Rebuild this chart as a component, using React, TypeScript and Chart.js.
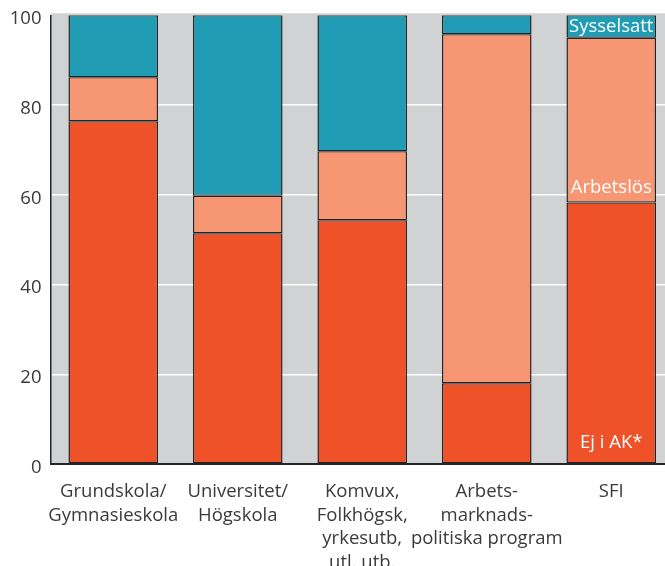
import React, { useEffect, useRef } from "react";
import { Chart, registerables } from "chart.js";
Chart.register(...registerables);

const categories: string[][] = [
  ["Grundskola/", "Gymnasieskola"],
  ["Universitet/", "Högskola"],
  ["Komvux,", "Folkhögsk,", "yrkesutb,", "utl. utb."],
  ["Arbets-", "marknads-", "politiska program"],
  ["SFI"],
];
const ejIAK = [76.4, 51.4, 54.3, 18.0, 58.3];
const arbetslos = [9.8, 8.4, 15.4, 77.8, 36.7];
const sysselsatt = [13.8, 40.2, 30.3, 4.2, 5.0];
const seriesNames = ["Ej i AK*", "Arbetslös", "Sysselsatt"];
const yMin = 0;
const yMax = 100;
const yStep = 20;

const FONT = "'Open Sans', 'DejaVu Sans', sans-serif";
const TEXT = "#3a3a3a";
const DARK = "#252525";

const bgPlugin = {
  id: "plotBg",
  beforeDraw(chart: any) {
    const { ctx, chartArea } = chart;
    ctx.save();
    ctx.fillStyle = "#d1d2d4";
    ctx.fillRect(chartArea.left, chartArea.top - 2, chartArea.right - chartArea.left, chartArea.bottom - chartArea.top + 2);
    ctx.restore();
  },
};

const labelPlugin = {
  id: "segLabels",
  afterDatasetsDraw(chart: any) {
    const { ctx } = chart;
    const x = chart.scales.x;
    const y = chart.scales.y;
    const i = categories.length - 1;
    const cx = x.getPixelForValue(i);
    ctx.save();
    ctx.fillStyle = "#ffffff";
    ctx.font = `18.5px ${FONT}`;
    ctx.textAlign = "center";
    ctx.textBaseline = "middle";
    const b0 = y.getPixelForValue(0);
    const b1 = y.getPixelForValue(ejIAK[i]);
    const b2 = y.getPixelForValue(ejIAK[i] + arbetslos[i]);
    const b3 = y.getPixelForValue(ejIAK[i] + arbetslos[i] + sysselsatt[i]);
    ctx.fillText(seriesNames[2], cx, (b2 + b3) / 2 + 0.5);
    ctx.fillText(seriesNames[1], cx, b1 - 14.5);
    ctx.fillText(seriesNames[0], cx, b0 - 21);
    ctx.restore();
  },
};

export default function App() {
  const ref = useRef<HTMLCanvasElement | null>(null);
  useEffect(() => {
    if (!ref.current) return;
    const border = { left: 1.5, right: 1.5, top: 1.25, bottom: 1.25 };
    const common = { borderColor: DARK, borderWidth: border, borderSkipped: false, inflateAmount: 0 };
    const chart = new Chart(ref.current, {
      type: "bar",
      data: {
        labels: categories,
        datasets: [
          { label: seriesNames[0], data: ejIAK, backgroundColor: "#ef5128", ...common },
          { label: seriesNames[1], data: arbetslos, backgroundColor: "#f69672", ...common },
          { label: seriesNames[2], data: sysselsatt, backgroundColor: "#209cb5", ...common },
        ],
      },
      options: {
        responsive: false,
        animation: false,
        devicePixelRatio: 1,
        layout: { padding: { top: 15.3, right: 6.5, left: 0, bottom: 0 } },
        plugins: { legend: { display: false }, tooltip: { enabled: false }, title: { display: false } },
        datasets: { bar: { barPercentage: 0.72, categoryPercentage: 1 } },
        scales: {
          x: {
            stacked: true,
            grid: { display: false, drawTicks: false },
            border: { display: true, color: DARK, width: 2 },
            ticks: {
              color: TEXT,
              font: { family: FONT, size: 18.5, lineHeight: 1.28 },
              padding: 16,
              autoSkip: false,
              maxRotation: 0,
            },
            afterFit: (s: any) => { s.height = 102; },
          },
          y: {
            stacked: true,
            min: yMin,
            max: yMax,
            grid: {
              drawTicks: true,
              tickLength: 9.5,
              tickColor: "rgba(0,0,0,0)",
              color: (c: any) => (c.tick && c.tick.value > yMin && c.tick.value < yMax ? "#ffffff" : "rgba(0,0,0,0)"),
              lineWidth: 1.5,
            },
            border: { display: true, color: DARK, width: 1.5 },
            ticks: {
              stepSize: yStep,
              color: TEXT,
              font: { family: FONT, size: 18.5 },
              padding: 0,
              labelOffset: 3.5,
            },
            afterFit: (s: any) => { s.width = 51; },
          },
        },
      },
      plugins: [bgPlugin, labelPlugin],
    });
    return () => chart.destroy();
  }, []);
  return (
    <div style={{ position: "fixed", left: 0, top: 0, width: 665, height: 566, overflow: "hidden", background: "#fff" }}>
      <canvas ref={ref} width={680} height={566} style={{ width: 680, height: 566, display: "block" }} />
    </div>
  );
}
